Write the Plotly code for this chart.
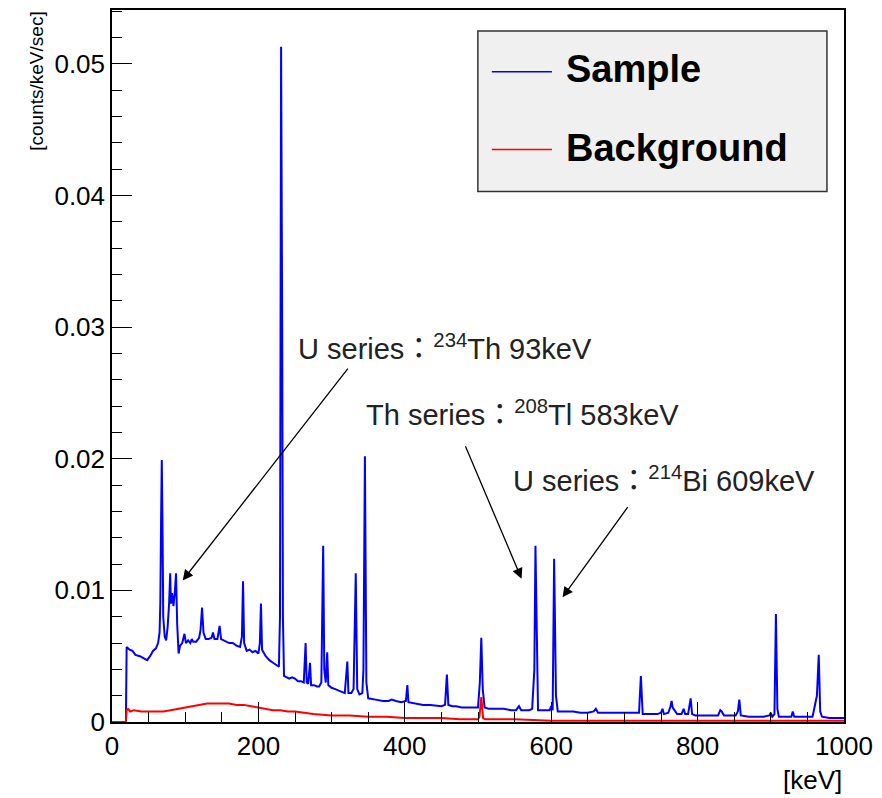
import plotly.graph_objects as go

# ---------------- data ----------------
sample_energy_keV = [
    0, 19, 20, 24, 28, 32, 38, 44, 48, 52, 56, 60, 63, 65, 66, 67, 68, 69, 70, 72, 74, 76, 78,
    79.5, 80.5, 82, 84, 86, 87.5, 89, 91, 93, 96, 99, 101, 104, 107, 109, 111, 115, 119, 121,
    123, 125, 128, 132, 136, 138, 140, 144, 147, 149, 155, 160, 165, 170, 175, 177.5, 179,
    180.5, 184, 188, 192, 196, 200, 202, 203.5, 205, 210, 215, 220, 225, 228, 229.5, 231,
    232.5, 233.5, 235, 238, 242, 246, 250, 254, 258, 262, 264.5, 266, 268, 270.5, 272, 276,
    280, 283, 286, 288.5, 290, 292, 294, 295.5, 300, 305, 310, 315, 318, 321.5, 323, 327, 330,
    333, 335, 338, 342, 343.5, 345.5, 347.5, 350, 360, 370, 378, 382, 388, 395, 401.5, 403.5,
    405, 415, 425, 435, 445, 450, 455, 457.5, 459.5, 465, 470, 478, 485, 492, 500, 502.5,
    504.5, 506.5, 509, 515, 525, 535, 545, 552, 556, 559, 565, 570, 574, 577, 578.5, 580.5,
    582, 590, 598, 600, 602, 604, 606.5, 609, 620, 630, 640, 650, 658, 661, 664, 675, 690,
    705, 712, 720, 722.5, 725, 735, 745, 750, 752, 754, 760, 763, 764.5, 766, 769, 772, 778,
    781, 783, 787, 790.5, 792.5, 797, 800, 810, 820, 828, 831, 833, 836, 845, 852, 855, 857,
    859, 870, 880, 890, 898, 900, 902, 905, 907, 909, 911, 920, 928, 930, 932, 940, 950, 957,
    960, 961.5, 963, 965.5, 967.5, 970, 980, 990, 998, 1000,
]
sample_rate = [
    0, 0, 0.0057, 0.0055, 0.0054, 0.0051, 0.0050, 0.0048, 0.0047, 0.0050, 0.0054, 0.0056,
    0.0060, 0.0068, 0.0090, 0.0150, 0.0199, 0.0150, 0.0080, 0.0065, 0.0062, 0.0072, 0.0090,
    0.0113, 0.0090, 0.0098, 0.0088, 0.0100, 0.0113, 0.0075, 0.0052, 0.0058, 0.0060, 0.0067,
    0.0060, 0.0062, 0.0060, 0.0063, 0.0061, 0.0061, 0.0064, 0.0070, 0.0087, 0.0068, 0.0063,
    0.0063, 0.0064, 0.0068, 0.0063, 0.0063, 0.0073, 0.0063, 0.0061, 0.0060, 0.0060, 0.0058,
    0.0057, 0.0065, 0.0107, 0.0060, 0.0054, 0.0055, 0.0053, 0.0054, 0.0052, 0.0060, 0.0090,
    0.0055, 0.0050, 0.0047, 0.0045, 0.0043, 0.0042, 0.0080, 0.0513, 0.0300, 0.0080, 0.0035,
    0.0034, 0.0033, 0.0034, 0.0033, 0.0031, 0.0031, 0.0030, 0.0060, 0.0030, 0.0029, 0.0045,
    0.0028, 0.0028, 0.0027, 0.0027, 0.0030, 0.0134, 0.0040, 0.0030, 0.0053, 0.0028, 0.0026,
    0.0025, 0.0024, 0.0023, 0.0022, 0.0046, 0.0022, 0.0022, 0.0025, 0.0113, 0.0025, 0.0021,
    0.0022, 0.0040, 0.0202, 0.0030, 0.0018, 0.0017, 0.0016, 0.0016, 0.0017, 0.0016, 0.0015,
    0.0016, 0.0028, 0.0015, 0.0014, 0.0013, 0.0013, 0.0012, 0.0012, 0.0013, 0.0036, 0.0013,
    0.0012, 0.0012, 0.0011, 0.0011, 0.0011, 0.0011, 0.0030, 0.0064, 0.0025, 0.0011, 0.0010,
    0.0010, 0.0010, 0.0009, 0.0009, 0.0012, 0.0009, 0.0009, 0.0009, 0.0010, 0.0040, 0.0134,
    0.0040, 0.0009, 0.0009, 0.0009, 0.0012, 0.0009, 0.0124, 0.0020, 0.0008, 0.0008, 0.0008,
    0.0007, 0.0007, 0.0008, 0.0010, 0.0007, 0.0007, 0.0007, 0.0007, 0.0007, 0.0007, 0.0035,
    0.0006, 0.0006, 0.0006, 0.0007, 0.0010, 0.0006, 0.0007, 0.0012, 0.0016, 0.0011, 0.0008,
    0.0006, 0.0006, 0.0010, 0.0006, 0.0006, 0.0018, 0.0006, 0.0005, 0.0005, 0.0005, 0.0005,
    0.0005, 0.0009, 0.0008, 0.0005, 0.0005, 0.0005, 0.0008, 0.0017, 0.0005, 0.0004, 0.0004,
    0.0004, 0.0005, 0.0007, 0.0004, 0.0006, 0.0082, 0.0010, 0.0004, 0.0004, 0.0004, 0.0008,
    0.0004, 0.0004, 0.0004, 0.0004, 0.0012, 0.0017, 0.0020, 0.0051, 0.0008, 0.0004, 0.0003,
    0.0003, 0.0003, 0.0003,
]

background_energy_keV = [
    0, 19, 20, 22, 25, 30, 40, 50, 60, 70, 80, 90, 100, 110, 120, 130, 140, 150, 160, 170,
    180, 190, 200, 210, 220, 230, 240, 250, 275, 300, 325, 350, 375, 400, 425, 450, 475,
    500, 502, 504.5, 507, 510, 550, 600, 700, 800, 900, 1000,
]
background_rate = [
    0, 0, 0.0009, 0.0010, 0.0008, 0.0009, 0.0008, 0.0008, 0.0008, 0.0008, 0.0009, 0.0010,
    0.0011, 0.0012, 0.0013, 0.0014, 0.0014, 0.0014, 0.0014, 0.0013, 0.0013, 0.0012, 0.0011,
    0.0010, 0.0009, 0.0009, 0.0008, 0.0008, 0.0006, 0.0005, 0.0005, 0.0004, 0.0004, 0.0003,
    0.0003, 0.0003, 0.0002, 0.0002, 0.0004, 0.0019, 0.0003, 0.0002, 0.0002, 0.0001, 0.0001,
    0.0001, 0.0001, 0.0001,
]

series_names = ["Sample", "Background"]
series_colors = ["#0000ff", "#ff0000"]

x_tick_values = [0, 200, 400, 600, 800, 1000]
x_tick_labels = ["0", "200", "400", "600", "800", "1000"]
y_tick_values = [0, 0.01, 0.02, 0.03, 0.04, 0.05]
y_tick_labels = ["0", "0.01", "0.02", "0.03", "0.04", "0.05"]

# annotation labels and arrows (data coordinates)
label_texts = [
    "U series：<sup>234</sup>Th 93keV",
    "Th series：<sup>208</sup>Tl 583keV",
    "U series：<sup>214</sup>Bi 609keV",
]
label_pos_keV = [251.0, 344.0, 545.0]
label_pos_rate = [0.02848, 0.02348, 0.01848]
arrow_tail_keV = [323.8, 482.0, 706.0]
arrow_tail_rate = [0.02697, 0.02106, 0.01644]
arrow_head_keV = [96.6, 559.5, 615.5]
arrow_head_rate = [0.01076, 0.01089, 0.00947]

# ---------------- figure ----------------
fig = go.Figure()
fig.add_trace(go.Scatter(x=sample_energy_keV, y=sample_rate, mode="lines",
                         name=series_names[0], line=dict(color=series_colors[0], width=2)))
fig.add_trace(go.Scatter(x=background_energy_keV, y=background_rate, mode="lines",
                         name=series_names[1], line=dict(color=series_colors[1], width=2)))

axis_font = dict(family="Liberation Sans, Arial, sans-serif", size=26, color="black")

fig.update_xaxes(range=[0, 1000], tickvals=x_tick_values, ticktext=x_tick_labels,
                 ticks="inside", ticklen=20, tickwidth=1, tickcolor="black",
                 showline=True, linecolor="black", linewidth=1.5, mirror=True,
                 showgrid=False, zeroline=False, tickfont=axis_font,
                 minor=dict(ticks="inside", ticklen=10, dtick=50, tickcolor="black",
                            tickwidth=1, showgrid=False))
fig.update_yaxes(range=[0, 0.0541], tickvals=y_tick_values, ticktext=y_tick_labels,
                 ticks="inside", ticklen=20, tickwidth=1, tickcolor="black",
                 showline=True, linecolor="black", linewidth=1.5, mirror=True,
                 showgrid=False, zeroline=False, tickfont=axis_font,
                 minor=dict(ticks="inside", ticklen=10, dtick=0.002, tickcolor="black",
                            tickwidth=1, showgrid=False))

annotations = []
ann_font = dict(family="Liberation Sans, Noto Sans CJK JP, sans-serif", size=29, color="#222222")
for t, lx, ly in zip(label_texts, label_pos_keV, label_pos_rate):
    annotations.append(dict(x=lx, y=ly, xref="x", yref="y", text=t, showarrow=False,
                            xanchor="left", yanchor="middle", font=ann_font))
for tx, ty, hx, hy in zip(arrow_tail_keV, arrow_tail_rate, arrow_head_keV, arrow_head_rate):
    annotations.append(dict(x=hx, y=hy, ax=tx, ay=ty, xref="x", yref="y", axref="x", ayref="y",
                            text="", showarrow=True, arrowhead=2, arrowsize=1.6,
                            arrowwidth=1.3, arrowcolor="black"))

# axis titles
annotations.append(dict(x=-0.1035, y=1.0, xref="paper", yref="paper", text="[counts/keV/sec]",
                        textangle=-90, showarrow=False, xanchor="center", yanchor="top",
                        font=dict(family="Liberation Sans, Arial, sans-serif",
                                  size=19, color="black")))
annotations.append(dict(x=1.0, y=-0.081, xref="paper", yref="paper", text="[keV]",
                        showarrow=False, xanchor="right", yanchor="middle", font=axis_font))

# legend (drawn as a ROOT-style box)
leg_font = dict(family="Liberation Sans, Arial, sans-serif", size=38, color="black")
leg_rows_y = [0.9132, 0.8039]
leg_text_y = [0.9174, 0.8067]
shapes = [dict(type="rect", xref="paper", yref="paper", x0=0.4998, x1=0.9767, y0=0.7451,
               y1=0.9706, fillcolor="#f0f0f0", line=dict(color="#333333", width=1.5))]
for name, col, ly, ty in zip(series_names, series_colors, leg_rows_y, leg_text_y):
    shapes.append(dict(type="line", xref="paper", yref="paper", x0=0.5189, x1=0.601,
                       y0=ly, y1=ly, line=dict(color=col, width=1.5)))
    annotations.append(dict(x=0.617, y=ty, xref="paper", yref="paper", text="<b>%s</b>" % name,
                            showarrow=False, xanchor="left", yanchor="middle", font=leg_font))

# the page body adds an 8px offset, so the figure is drawn 8px smaller on each side
fig.update_layout(width=874, height=790, margin=dict(l=104, r=38, t=0, b=76),
                  paper_bgcolor="white", plot_bgcolor="white", showlegend=False,
                  annotations=annotations, shapes=shapes)

fig.write_html("out.html")
